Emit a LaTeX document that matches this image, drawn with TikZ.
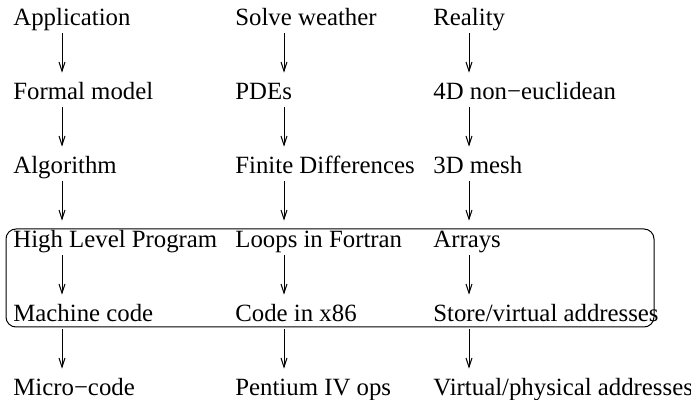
\documentclass[tikz,border=0pt]{standalone}
\usepackage{fontspec}
\setmainfont{Liberation Serif}
\usetikzlibrary{arrows.meta}
\begin{document}
\begin{tikzpicture}[x=0.5pt,y=-0.5pt,
	lbl/.style={anchor=base west,inner xsep=0pt,inner ysep=1pt,text height=8.5pt,text depth=2.5pt,font=\fontsize{12.4}{14}\selectfont},
	flow/.style={line width=0.5pt,-{Straight Barb[length=4.5pt,width=3pt]},shorten >=4pt}]
	\useasboundingbox (0,0) rectangle (691,400);
	\coordinate (c1) at (62,0);
	\coordinate (c2) at (284,0);
	\coordinate (c3) at (469,0);

	% first column
	\node[lbl] (app) at (13,26) {Application};
	\node[lbl] (form) at (13,100) {Formal model};
	\node[lbl] (algo) at (13,174) {Algorithm};
	\node[lbl] (hlp) at (13,248) {High Level Program};
	\node[lbl] (mach) at (13,322) {Machine code};
	\node[lbl] (micro) at (13,396) {Micro−code};

	% second column
	\node[lbl] (solve) at (235,26) {Solve weather};
	\node[lbl] (pde) at (235,100) {PDEs};
	\node[lbl] (fd) at (235,174) {Finite Differences};
	\node[lbl] (loops) at (235,248) {Loops in Fortran};
	\node[lbl] (x86) at (235,322) {Code in x86};
	\node[lbl] (pent) at (235,396) {Pentium IV ops};

	% third column
	\node[lbl] (real) at (433,26) {Reality};
	\node[lbl] (noneuc) at (433,100) {4D non−euclidean};
	\node[lbl] (mesh) at (433,174) {3D mesh};
	\node[lbl] (arr) at (433,248) {Arrays};
	\node[lbl] (store) at (433,322) {Store/virtual addresses};
	\node[lbl] (phys) at (433,396) {Virtual/physical addresses};

	\draw[flow] (app.south -| c1) -- (form.north -| c1);
	\draw[flow] (form.south -| c1) -- (algo.north -| c1);
	\draw[flow] (algo.south -| c1) -- (hlp.north -| c1);
	\draw[flow] (hlp.south -| c1) -- (mach.north -| c1);
	\draw[flow] (mach.south -| c1) -- (micro.north -| c1);

	\draw[flow] (solve.south -| c2) -- (pde.north -| c2);
	\draw[flow] (pde.south -| c2) -- (fd.north -| c2);
	\draw[flow] (fd.south -| c2) -- (loops.north -| c2);
	\draw[flow] (loops.south -| c2) -- (x86.north -| c2);
	\draw[flow] (x86.south -| c2) -- (pent.north -| c2);

	\draw[flow] (real.south -| c3) -- (noneuc.north -| c3);
	\draw[flow] (noneuc.south -| c3) -- (mesh.north -| c3);
	\draw[flow] (mesh.south -| c3) -- (arr.north -| c3);
	\draw[flow] (arr.south -| c3) -- (store.north -| c3);
	\draw[flow] (store.south -| c3) -- (phys.north -| c3);

	\draw[line width=0.5pt,rounded corners=5pt] (6,229) rectangle (654,327);
\end{tikzpicture}
\end{document}
